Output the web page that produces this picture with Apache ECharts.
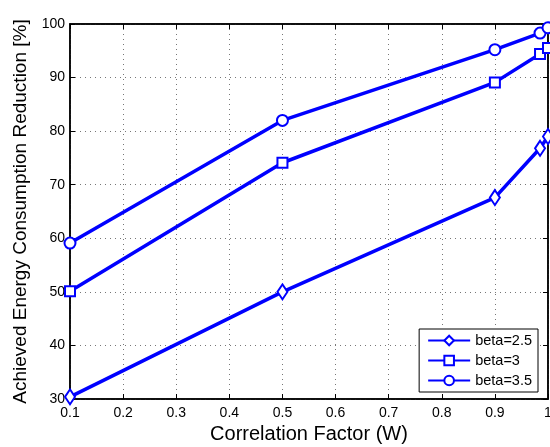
<!DOCTYPE html>
<html>
<head>
<meta charset="utf-8">
<script src="https://cdn.jsdelivr.net/npm/echarts@6/dist/echarts.min.js"></script>
<style>
html,body{margin:0;padding:0;background:#fff;}
#c{width:550px;height:447px;}
</style>
</head>
<body>
<div id="c"></div>
<script>
var xValues = [0.1, 0.5, 0.9, 0.985, 1.0];
var beta25 = [30.4, 50, 67.6, 76.8, 79];
var beta3 = [50.1, 74.1, 89.1, 94.4, 95.5];
var beta35 = [59.1, 82, 95.2, 98.3, 99.3];
var seriesNames = ['beta=2.5', 'beta=3', 'beta=3.5'];
var xTitle = 'Correlation Factor (W)';
var yTitle = 'Achieved Energy Consumption Reduction [%]';

function pairs(ys){ return xValues.map(function(x,i){ return [x, ys[i]]; }); }

var font = 'Liberation Sans, Arial, Helvetica, sans-serif';
var blue = '#0000ff';
function mkSeries(name, ys, symbol, size){
  return {
    name: name, type: 'line', data: pairs(ys),
    symbol: symbol, symbolSize: size, showAllSymbol: true,
    clip: false,
    lineStyle: {color: blue, width: 3.5},
    itemStyle: {color: blue, borderColor: blue, borderWidth: 2.8},
    emphasis: {disabled: true},
    z: 5
  };
}
var gridLine = {show: true, lineStyle: {color: '#777', type: [1, 4], width: 1}};
var chart = echarts.init(document.getElementById('c'), null, {renderer: 'canvas'});
chart.setOption({
  animation: false,
  backgroundColor: '#fff',
  textStyle: {fontFamily: font},
  grid: {left: 70, right: 2, top: 24, bottom: 48, outerBoundsMode: 'none', containLabel: false,
    show: true, borderColor: '#000', borderWidth: 1.5, backgroundColor: 'transparent'},
  legend: {
    orient: 'vertical', right: 12, bottom: 55,
    backgroundColor: '#fff', borderColor: '#000', borderWidth: 1,
    padding: [4, 6, 4, 8], itemGap: 5, itemWidth: 42, itemHeight: 12,
    textStyle: {fontFamily: font, fontSize: 14.5, color: '#000'},
    data: seriesNames
  },
  xAxis: [{
    type: 'value', min: 0.1, max: 1, interval: 0.1,
    name: xTitle, nameLocation: 'middle', nameGap: 23,
    nameTextStyle: {fontSize: 20, color: '#000', fontFamily: font},
    axisLine: {show: true, lineStyle: {color: '#000', width: 1.5}},
    axisTick: {show: true, inside: true, length: 5, lineStyle: {color: '#000'}},
    axisLabel: {color: '#000', fontSize: 14, margin: 7, fontFamily: font,
      formatter: function(v){ return String(parseFloat(v.toFixed(1))); }},
    splitLine: gridLine
  }, {
    type: 'value', min: 0.1, max: 1, interval: 0.1, position: 'top',
    axisLine: {show: true, lineStyle: {color: '#000', width: 1.5}},
    axisTick: {show: true, inside: true, length: 5, lineStyle: {color: '#000'}},
    axisLabel: {show: false}, splitLine: {show: false}
  }],
  yAxis: [{
    type: 'value', min: 30, max: 100, interval: 10,
    name: yTitle, nameLocation: 'middle', nameGap: 38,
    nameTextStyle: {fontSize: 19, color: '#000', fontFamily: font},
    axisLine: {show: true, lineStyle: {color: '#000', width: 1.5}},
    axisTick: {show: true, inside: true, length: 5, lineStyle: {color: '#000'}},
    axisLabel: {color: '#000', fontSize: 14, margin: 5, fontFamily: font},
    splitLine: gridLine
  }, {
    type: 'value', min: 30, max: 100, interval: 10, position: 'right',
    axisLine: {show: true, lineStyle: {color: '#000', width: 1.5}},
    axisTick: {show: true, inside: true, length: 5, lineStyle: {color: '#000'}},
    axisLabel: {show: false}, splitLine: {show: false}
  }],
  series: [
    mkSeries(seriesNames[0], beta25, 'emptyDiamond', [10, 15]),
    mkSeries(seriesNames[1], beta3, 'emptyRect', 10),
    mkSeries(seriesNames[2], beta35, 'emptyCircle', 11)
  ]
});
</script>
</body>
</html>
